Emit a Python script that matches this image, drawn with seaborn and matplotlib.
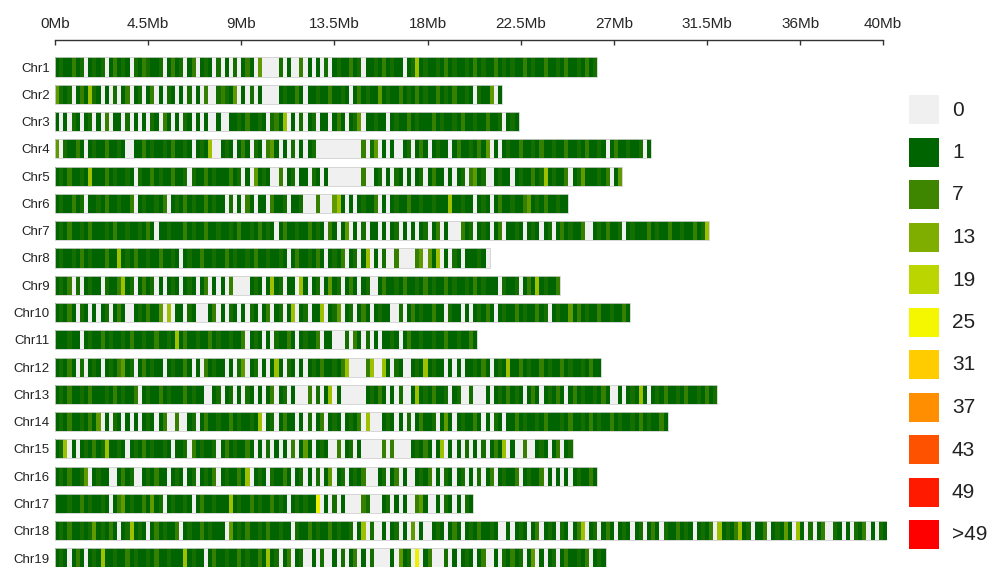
import numpy as np
import pandas as pd
import matplotlib
matplotlib.use("Agg")
import matplotlib.pyplot as plt
from matplotlib.colors import ListedColormap, to_rgb
from matplotlib.patches import Rectangle
import seaborn as sns

# ─── Data ────────────────────────────────────────────────────────────────────
BIN_MB = 0.2  # one window = 0.2 Mb

chromosomes = ["Chr1", "Chr2", "Chr3", "Chr4", "Chr5", "Chr6", "Chr7", "Chr8",
               "Chr9", "Chr10", "Chr11", "Chr12", "Chr13", "Chr14", "Chr15",
               "Chr16", "Chr17", "Chr18", "Chr19"]

# SNP density level per window
# 0 = no SNP, 1 = darkest green ... 6 = yellow
chr1 = ("1211312012" "1201312102" "1321120131" "2013012102" "0102013104" "0000201003"
        "0101020121" "1312011213" "1211012512" "1121312112" "1312113121" "2113121131"
        "12131121312")
chr2 = ("4212013152" "1010201301" "2013010210" "1020103002" "3214010201" "0000121131"
        "0112113112" "1013121141" "2113121312" "1131213112" "10211401")
chr3 = ("1010210120" "1030110201" "0102103101" "0210101001" "0011213112" "1023150102"
        "0120110131" "0124011211" "0121131211" "1312112131" "121131120121")
chr4 = ("4021131012" "1131121001" "1312112131" "1210121500" "1210131021" "0341010201"
        "0120000000" "0000302401" "0100120131" "0121101311" "2131401012" "1131121311"
        "2113112131" "1210131121" "1201")
chr5 = ("1213112151" "1131211210" "2113121131" "1202113121" "1131201041" "2100301201"
        "1021010000" "0000300120" "1021010120" "1311010120" "3412001211" "0121131251"
        "2113012411" "1213014")
chr6 = ("1211312011" "2131121130" "1211213012" "1312113121" "1020103101" "1031120112"
        "0003000451" "0101211301" "0121131121" "1211151121" "1012101311" "2113412131"
        "1211")
chr7 = ("1213112131" "1121311211" "2131011211" "1312113112" "1121311213" "1210131121"
        "1312103101" "4010201101" "0120101012" "0130100031" "2012101301" "1210121012"
        "0131211300" "1213112012" "1113121131" "12113125")
chr8 = ("1211213121" "1131151213" "1121131121" "0121131121" "1312112131" "1211210131"
        "1213101213" "0120150102" "0030000340" "4150102101" "11210")
chr9 = ("1213020121" "1021135120" "1312010121" "0121013010" "1030000121" "0151201105"
        "1012014120" "1310120013" "1121311213" "1211312112" "1312111021" "120131512113")
chr10 = ("1213102101" "0120131001" "2131140501" "1021000130" "1021010210" "1301201501"
         "2011501240" "1201310121" "1002013121" "1311021101" "0121310121" "1312113120"
         "1211413121" "131121131")
chr11 = ("1112110121" "1312112131" "1211311215" "1311211312" "1121130121" "0102113101"
         "2113011000" "2031020101" "1210131121" "121131121131")
chr12 = ("1213102012" "1012134120" "1312110121" "1310103121" "1010240120" "1015102101"
         "0121311213" "5000035005" "1021001215" "1211010101" "1213101215" "1131211312"
         "113121121311")
chr13 = ("1213112131" "1121312113" "0121131211" "1312110012" "0120102101" "0130120100"
         "0302015010" "0000012131" "0102001512" "1311201200" "2000101213" "1210131012"
         "1310131211" "2131001012" "1510121311" "2131121312")
chr14 = ("1213112131" "4010210101" "0121013003" "0012013112" "1131211215" "0120131101"
         "0201301210" "1213050001" "2101020131" "1201410121" "1310102101" "1312112131"
         "1121311213" "1211312112" "13121131")
chr15 = ("1250101213" "1251121012" "1312112101" "1203121120" "1312113101" "0201010301"
         "4101210030" "1201000003" "0300001213" "1015010102" "0102013150" "1003001210"
         "13012")
chr16 = ("1213112401" "2110013120" "0121311012" "1012012130" "1211315012" "1021131012"
         "0102014012" "0121300012" "0130100121" "3010210120" "1020130121" "1301211301"
         "01010121131")
chr17 = ("1112113121" "1210134121" "1314120121" "1210131121" "1151211312" "1131210121"
         "2116010201" "0000320001" "2010100341" "00102101021")
chr18 = ("1213112124" "1213101251" "2101312113" "0121131211" "1041213112" "1311211021"
         "1312113121" "1201502001" "0120104010" "0121013101" "2131121001" "0121013012"
         "1021013501" "2013101210" "1201310211" "3121012130" "5121351201" "1301214105"
         "1020130021" "01021301021")
chr19 = ("1210131012" "1511211312" "1121311211" "1512110131" "1211312113" "1512013012"
         "0010200102" "0130102000" "0104120601" "3000201012" "1013001021" "3120140101"
         "2013112130121")

density_levels = [chr1, chr2, chr3, chr4, chr5, chr6, chr7, chr8, chr9, chr10,
                  chr11, chr12, chr13, chr14, chr15, chr16, chr17, chr18, chr19]
level_counts = {"0": 0, "1": 1, "2": 3, "3": 6, "4": 10, "5": 16, "6": 24}

legend_labels = ["0", "1", "7", "13", "19", "25", "31", "37", "43", "49", ">49"]
legend_colors = ["#F0F0F0", "#006400", "#3F8600", "#7FAD00", "#BBD500", "#F5F700",
                 "#FFCC00", "#FF8E00", "#FF5200", "#FF1A00", "#FF0000"]
legend_breaks = [1, 7, 13, 19, 25, 31, 37, 43, 49, 55]

tick_mb = [0, 4.5, 9, 13.5, 18, 22.5, 27, 31.5, 36, 40]
tick_labels = ["0Mb", "4.5Mb", "9Mb", "13.5Mb", "18Mb", "22.5Mb", "27Mb",
               "31.5Mb", "36Mb", "40Mb"]

# ─── Matrix: 20 sub-rows per chromosome, bar uses rows 3..16 ────────────────
ROWS = 20
n_bins = max(len(s) for s in density_levels)
mat = np.full((ROWS * len(chromosomes), n_bins), np.nan)
for i, s in enumerate(density_levels):
    counts = [level_counts[c] for c in s]
    mat[i * ROWS + 3:i * ROWS + 17, :len(counts)] = counts

# colour for every count 0..55, ramp through the legend colours
rgb = np.array([to_rgb(c) for c in legend_colors[1:]])
cols = [to_rgb(legend_colors[0])]
for v in range(1, 56):
    cols.append(tuple(np.interp(v, legend_breaks, rgb[:, k]) for k in range(3)))
cmap = ListedColormap(cols)

# ─── Plot ────────────────────────────────────────────────────────────────────
sns.set_theme(style="white")
plt.rcParams["font.family"] = ["Liberation Sans", "DejaVu Sans"]

W, H = 990, 567
fig = plt.figure(figsize=(W / 100, H / 100), dpi=100)
px_row = 27.28 / ROWS
top_px = 67 - 10 * px_row
vis_rows = (H - top_px) / px_row
ax = fig.add_axes([55 / W, 0, n_bins * 4.14 / W, (H - top_px) / H])

sns.heatmap(pd.DataFrame(mat), ax=ax, cmap=cmap, vmin=-0.5, vmax=55.5,
            cbar=False, xticklabels=False, yticklabels=False)
ax.set_xlim(0, n_bins)
ax.set_ylim(vis_rows, 0)

for i, s in enumerate(density_levels):
    ax.add_patch(Rectangle((0, i * ROWS + 3), len(s), 14, fill=False,
                           ec="#d0d0d0", lw=0.6))

# top axis
ax.xaxis.tick_top()
ax.set_xticks([m / BIN_MB for m in tick_mb])
ax.set_xticklabels(tick_labels, fontsize=12, color="#222222")
ax.tick_params(axis="x", top=True, bottom=False, direction="in", length=3.6,
               width=1, color="#333333", pad=6.5)
ax.spines["top"].set_visible(True)
ax.spines["top"].set_position(("outward", 9.6))
ax.spines["top"].set_bounds(0, 40 / BIN_MB)
ax.spines["top"].set_color("#333333")
ax.spines["top"].set_linewidth(1)

ax.set_yticks([i * ROWS + 10 for i in range(len(chromosomes))])
ax.set_yticklabels(chromosomes, fontsize=9.5, rotation=0, color="#222222")
ax.tick_params(axis="y", left=True, length=0, pad=3.6)
ax.set_xlabel("")
ax.set_ylabel("")

# legend
for k, (lab, col) in enumerate(zip(legend_labels, legend_colors)):
    top = 95 + k * 42.5
    fig.add_artist(Rectangle((909 / W, 1 - (top + 29) / H), 30 / W, 29 / H,
                             transform=fig.transFigure, fc=col, ec="none"))
    fig.text(952 / W, 1 - (top + 15) / H, lab, fontsize=15, va="center",
             ha="left", color="#222222")

fig.savefig("out.png", dpi=100)
